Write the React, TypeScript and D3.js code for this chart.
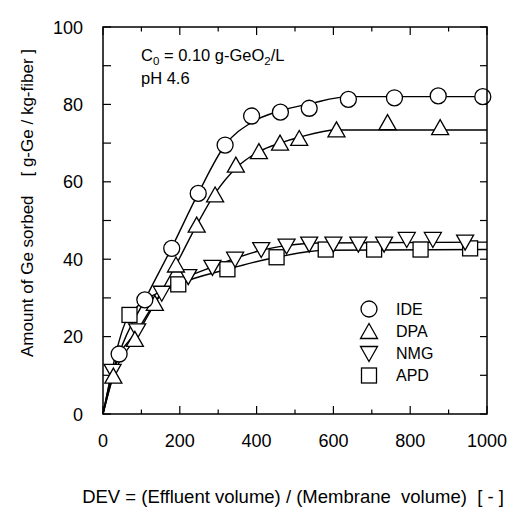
import React from "react";
import * as d3 from "d3";

// ---- data ----
const IDE_X = [42, 109, 179, 248, 318, 387, 462, 537, 639, 759, 873, 989];
const IDE_Y = [15.5, 29.5, 42.8, 57, 69.5, 77, 78, 79, 81.3, 81.7, 82.2, 82];

const DPA_X = [27, 83, 135, 190, 244, 292, 346, 406, 461, 511, 608, 741, 878];
const DPA_Y = [9.8, 19.3, 28.6, 38.5, 48.8, 56.6, 64.3, 67.8, 70, 71.2, 73.4, 75.3, 74];

const NMG_X = [25, 89, 153, 222, 285, 344, 412, 478, 537, 600, 665, 732, 791, 859, 943];
const NMG_Y = [11, 21.5, 31.2, 35.5, 37.9, 40, 42.5, 43.4, 43.9, 43.9, 43.9, 43.9, 45.1, 45.1, 44.4];

const APD_X = [69, 196, 324, 452, 580, 706, 827, 956];
const APD_Y = [25.6, 33.5, 37.4, 40.5, 42.5, 42.5, 42.5, 42.8];

// fitted curves as drawn in the reference
const IDE_FIT_X = [0, 42, 109, 179, 248, 318, 390, 460, 540, 640, 1000];
const IDE_FIT_Y = [0, 15.5, 29.5, 43, 57, 69.5, 75.5, 78.3, 80.2, 82, 82];
const DPA_FIT_X = [0, 27, 83, 135, 190, 244, 292, 346, 406, 461, 511, 607, 1000];
const DPA_FIT_Y = [0, 9.8, 19.5, 28.6, 38.5, 48.8, 57, 63.5, 67.8, 70, 71.5, 73.4, 73.4];
const NMG_FIT_X = [0, 25, 89, 153, 222, 285, 344, 412, 478, 560, 1000];
const NMG_FIT_Y = [0, 11, 21.5, 31, 35.5, 38, 40.2, 42.3, 43.5, 44.2, 44.4];
const APD_FIT_X = [0, 69, 196, 324, 452, 580, 1000];
const APD_FIT_Y = [0, 25.6, 33.5, 37.4, 40.5, 42.3, 42.5];

const X_TICKS = [0, 200, 400, 600, 800, 1000];
const X_MINOR = [100, 300, 500, 700, 900];
const Y_TICKS = [0, 20, 40, 60, 80, 100];
const Y_MINOR = [10, 30, 50, 70, 90];

const LEGEND = ["IDE", "DPA", "NMG", "APD"];

const FONT = "'Liberation Sans', Arial, Helvetica, sans-serif";

type Shape = "circle" | "up" | "down" | "square";

function Marker({ shape, cx, cy }: { shape: Shape; cx: number; cy: number }) {
  const s = 8;
  const common = { fill: "#fff", stroke: "#000", strokeWidth: 1.3 };
  if (shape === "circle") return <circle cx={cx} cy={cy} r={s} {...common} />;
  if (shape === "square")
    return <rect x={cx - s + 0.5} y={cy - s + 0.5} width={2 * s - 1} height={2 * s - 1} {...common} />;
  const h = 14;
  const w = 17;
  if (shape === "up")
    return (
      <path
        d={`M${cx},${cy - h / 2 - 1}L${cx + w / 2},${cy + h / 2}L${cx - w / 2},${cy + h / 2}Z`}
        {...common}
      />
    );
  return (
    <path
      d={`M${cx},${cy + h / 2 + 1}L${cx + w / 2},${cy - h / 2}L${cx - w / 2},${cy - h / 2}Z`}
      {...common}
    />
  );
}

export default function App() {
  const W = 516;
  const H = 509;
  const left = 103;
  const right = 487;
  const top = 27;
  const bottom = 414;

  const x = d3.scaleLinear().domain([0, 1000]).range([left, right]);
  const y = d3.scaleLinear().domain([0, 100]).range([bottom, top]);

  const line = d3
    .line<[number, number]>()
    .x((d) => x(d[0]))
    .y((d) => y(d[1]))
    .curve(d3.curveMonotoneX);

  const zip = (a: number[], b: number[]) => a.map((v, i) => [v, b[i]] as [number, number]);

  const fits = [
    zip(IDE_FIT_X, IDE_FIT_Y),
    zip(DPA_FIT_X, DPA_FIT_Y),
    zip(NMG_FIT_X, NMG_FIT_Y),
    zip(APD_FIT_X, APD_FIT_Y),
  ];

  const series: { shape: Shape; pts: [number, number][] }[] = [
    { shape: "square", pts: zip(APD_X, APD_Y) },
    { shape: "down", pts: zip(NMG_X, NMG_Y) },
    { shape: "up", pts: zip(DPA_X, DPA_Y) },
    { shape: "circle", pts: zip(IDE_X, IDE_Y) },
  ];

  const legendShapes: Shape[] = ["circle", "up", "down", "square"];
  const legendY = [309, 331.5, 353.5, 375.5];

  return (
    <svg width={W} height={H} style={{ position: "absolute", left: 0, top: 0 }} fontFamily={FONT}>
      <rect x={0} y={0} width={W} height={H} fill="#fff" />
      {/* ticks */}
      <g stroke="#000" strokeWidth={1.2}>
        {X_TICKS.map((t) => (
          <g key={"xt" + t}>
            <line x1={x(t)} x2={x(t)} y1={bottom} y2={bottom - 8} />
            <line x1={x(t)} x2={x(t)} y1={top} y2={top + 8} />
          </g>
        ))}
        {X_MINOR.map((t) => (
          <g key={"xm" + t}>
            <line x1={x(t)} x2={x(t)} y1={bottom} y2={bottom - 4.5} />
            <line x1={x(t)} x2={x(t)} y1={top} y2={top + 4.5} />
          </g>
        ))}
        {[...Y_TICKS, ...Y_MINOR].map((t) => (
          <g key={"yt" + t}>
            <line x1={left} x2={left + 8} y1={y(t)} y2={y(t)} />
            <line x1={right} x2={right - 7} y1={y(t)} y2={y(t)} />
          </g>
        ))}
      </g>
      {/* fitted lines */}
      <g fill="none" stroke="#000" strokeWidth={1.4}>
        {fits.map((f, i) => (
          <path key={i} d={line(f) || ""} />
        ))}
      </g>
      {/* markers */}
      {series.map((s) =>
        s.pts.map((p, i) => <Marker key={s.shape + i} shape={s.shape} cx={x(p[0])} cy={y(p[1])} />)
      )}
      {/* frame */}
      <rect x={left} y={top} width={right - left} height={bottom - top} fill="none" stroke="#000" strokeWidth={1.5} />
      {/* tick labels */}
      <g fontSize={18} fill="#000">
        {X_TICKS.map((t) => (
          <text key={"xl" + t} x={x(t)} y={447} textAnchor="middle">
            {t}
          </text>
        ))}
        {Y_TICKS.map((t) => (
          <text key={"yl" + t} x={83} y={y(t) + 6.5} textAnchor="end">
            {t}
          </text>
        ))}
      </g>
      {/* axis titles */}
      <text
        x={293}
        y={503}
        textAnchor="middle"
        fontSize={18.5}
        fill="#000"
        style={{ whiteSpace: "pre" }}
      >
        {"DEV = (Effluent volume) / (Membrane  volume)  [ - ]"}
      </text>
      <text
        transform={`translate(33,203) rotate(-90)`}
        textAnchor="middle"
        fontSize={17}
        fill="#000"
        style={{ whiteSpace: "pre" }}
      >
        {"Amount of Ge sorbed    [ g-Ge / kg-fiber ]"}
      </text>
      {/* annotation */}
      <text x={141} y={61} fontSize={16.5} fill="#000" style={{ whiteSpace: "pre" }}>
        C<tspan fontSize={11.5} dy={4}>0</tspan>
        <tspan dy={-4}>{" = 0.10 g-GeO"}</tspan>
        <tspan fontSize={11.5} dy={4}>2</tspan>
        <tspan dy={-4}>/L</tspan>
      </text>
      <text x={141} y={84} fontSize={16.5} fill="#000">
        pH 4.6
      </text>
      {/* legend */}
      {LEGEND.map((name, i) => (
        <g key={name}>
          <Marker shape={legendShapes[i]} cx={369} cy={legendY[i]} />
          <text x={396} y={legendY[i] + 5.5} fontSize={16} fill="#000">
            {name}
          </text>
        </g>
      ))}
    </svg>
  );
}
